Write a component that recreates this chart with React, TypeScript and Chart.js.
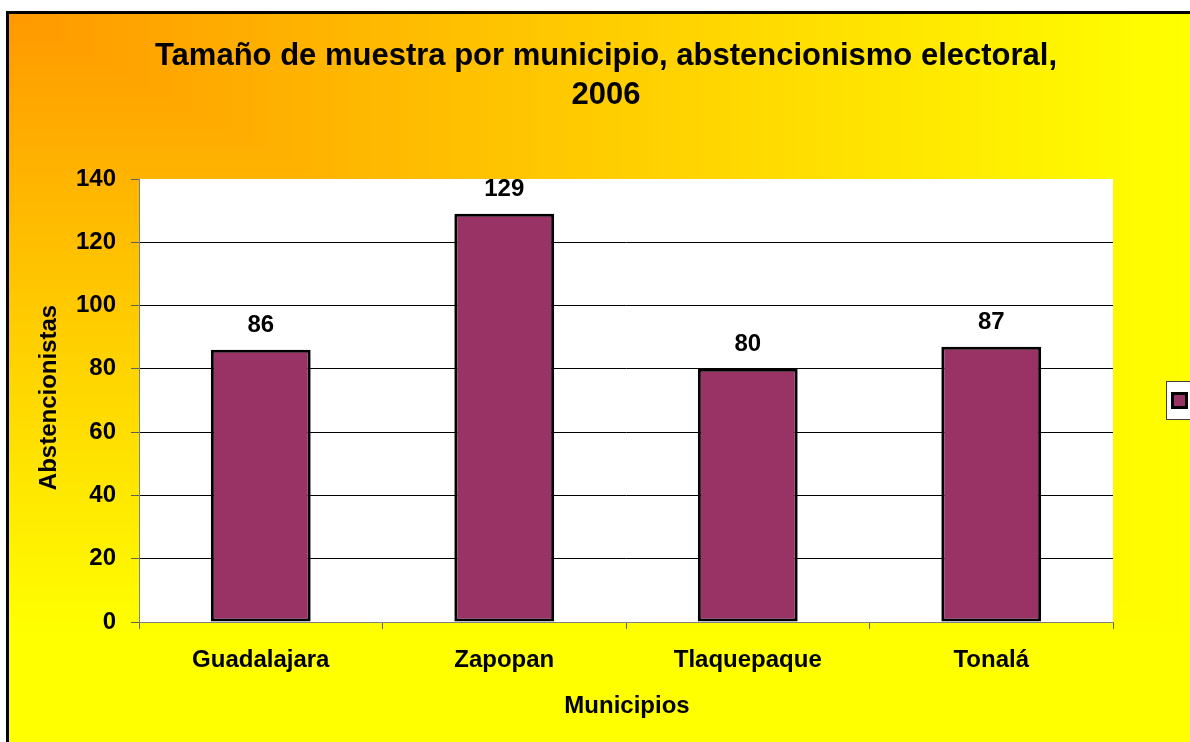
import React, { useEffect, useRef } from "react";
import { Chart, registerables } from "chart.js";

Chart.register(...registerables);

const categories = ["Guadalajara", "Zapopan", "Tlaquepaque", "Tonalá"];
const values = [86, 129, 80, 87];
const yMin = 0;
const yMax = 140;
const yStep = 20;
const chartTitle = ["Tamaño de muestra por municipio, abstencionismo electoral,", "2006"];
const xTitle = "Municipios";
const yTitle = "Abstencionistas";
const seriesLabel = "Abstencionistas";

const FONT = "Arial, 'Liberation Sans', sans-serif";
const BAR_COLOR = "#993366";

const decorPlugin = {
  id: "decor",
  beforeDraw(chart: any) {
    const { ctx, width, height, chartArea } = chart;
    ctx.save();
    // Excel-like corner gradient: orange at top-left to yellow
    ctx.fillStyle = "#FFFF00";
    ctx.fillRect(0, 0, width, height);
    const GW = 1180;
    const GH = 620;
    const N = 160;
    for (let i = N; i >= 1; i--) {
      const t = i / N;
      const g = Math.round(0x99 + (0xff - 0x99) * t);
      ctx.fillStyle = `rgb(255,${g},0)`;
      ctx.fillRect(0, 0, GW * t, GH * t);
    }
    // white plot area
    ctx.fillStyle = "#FFFFFF";
    ctx.fillRect(chartArea.left, chartArea.top, chartArea.right - chartArea.left, chartArea.bottom - chartArea.top);
    ctx.restore();
  },
  afterDatasetsDraw(chart: any) {
    const { ctx } = chart;
    const meta = chart.getDatasetMeta(0);
    ctx.save();
    ctx.fillStyle = "#000";
    ctx.font = `bold 24px ${FONT}`;
    ctx.textAlign = "center";
    ctx.textBaseline = "alphabetic";
    meta.data.forEach((bar: any, i: number) => {
      ctx.fillText(String(chart.data.datasets[0].data[i]), bar.x, bar.y - 18);
    });
    ctx.restore();
  },
  afterDraw(chart: any) {
    const { ctx, chartArea } = chart;
    ctx.save();
    ctx.fillStyle = "#000";
    // Title
    ctx.font = `bold 31px ${FONT}`;
    ctx.textAlign = "center";
    ctx.textBaseline = "alphabetic";
    ctx.fillText(chartTitle[0], 597, 51);
    ctx.fillText(chartTitle[1], 597, 90);
    // Axis titles
    ctx.font = `bold 24px ${FONT}`;
    ctx.fillText(xTitle, (chartArea.left + chartArea.right) / 2 + 1, 699);
    ctx.save();
    ctx.translate(47, (chartArea.top + chartArea.bottom) / 2 - 3);
    ctx.rotate(-Math.PI / 2);
    ctx.fillText(yTitle, 0, 0);
    ctx.restore();
    // Legend box
    ctx.fillStyle = "#FFFFFF";
    ctx.fillRect(1157, 367, 90, 38);
    ctx.strokeStyle = "#404040";
    ctx.lineWidth = 1;
    ctx.strokeRect(1157.5, 367.5, 90, 38);
    ctx.fillStyle = BAR_COLOR;
    ctx.fillRect(1163.5, 379.5, 14, 14);
    ctx.strokeStyle = "#000";
    ctx.lineWidth = 3;
    ctx.strokeRect(1163.5, 379.5, 14, 14);
    ctx.fillStyle = "#000";
    ctx.font = `bold 20px ${FONT}`;
    ctx.textAlign = "left";
    ctx.textBaseline = "middle";
    ctx.fillText(seriesLabel, 1186, 387);
    ctx.restore();
  },
};

export default function App() {
  const canvasRef = useRef<HTMLCanvasElement | null>(null);

  useEffect(() => {
    if (!canvasRef.current) return;
    const chart = new Chart(canvasRef.current, {
      type: "bar",
      data: {
        labels: categories,
        datasets: [
          {
            label: seriesLabel,
            data: values,
            backgroundColor: BAR_COLOR,
            borderColor: "#000000",
            borderWidth: 3,
            borderSkipped: false,
            barPercentage: 0.41,
            categoryPercentage: 1.0,
          },
        ],
      },
      options: {
        animation: false,
        responsive: false,
        devicePixelRatio: 1,
        layout: { padding: { left: 0, right: 136, top: 165, bottom: 52 } },
        plugins: {
          legend: { display: false },
          title: { display: false },
          tooltip: { enabled: false },
        },
        scales: {
          x: {
            afterFit: (scale: any) => {
              scale.height = 100;
            },
            grid: {
              offset: true,
              drawOnChartArea: false,
              tickLength: 7,
              color: "#606060",
            },
            border: { color: "#808080", width: 1 },
            ticks: {
              color: "#000",
              padding: 17,
              font: { family: FONT, size: 24, weight: "bold" },
            },
          },
          y: {
            min: yMin,
            max: yMax,
            afterFit: (scale: any) => {
              scale.width = 130;
            },
            grid: {
              color: (c: any) =>
                c.tick && c.tick.value === yMax
                  ? "rgba(0,0,0,0)"
                  : c.tick && c.tick.value === 0
                  ? "#808080"
                  : "#000000",
              tickColor: "#606060",
              tickLength: 8,
              lineWidth: 1,
            },
            border: { color: "#808080", width: 1 },
            ticks: {
              stepSize: yStep,
              color: "#000",
              padding: 15,
              font: { family: FONT, size: 24, weight: "bold" },
            },
          },
        },
      },
      plugins: [decorPlugin],
    } as any);
    return () => chart.destroy();
  }, []);

  return (
    <div style={{ position: "fixed", inset: 0, overflow: "hidden", background: "#fff" }}>
      <div
        style={{
          position: "absolute",
          left: 6,
          top: 11,
          width: 1240,
          height: 760,
          border: "3px solid #000",
          background: "#FFFF00",
        }}
      >
        <canvas
          ref={canvasRef}
          width={1240}
          height={760}
          style={{ position: "absolute", left: 0, top: 0, width: 1240, height: 760 }}
        />
      </div>
    </div>
  );
}
